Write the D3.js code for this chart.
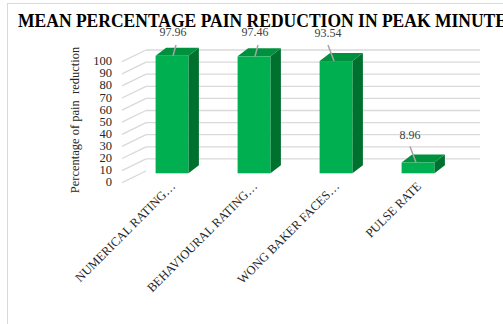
<!DOCTYPE html>
<html>
<head>
<meta charset="utf-8">
<script src="https://cdn.jsdelivr.net/npm/d3@7"></script>
<style>
  html, body { margin: 0; padding: 0; background: #fff; }
  svg { display: block; }
  text { font-family: "Liberation Serif", "Times New Roman", serif; }
</style>
</head>
<body>
<script>
const categories = ["NUMERICAL RATING…", "BEHAVIOURAL RATING…", "WONG BAKER FACES…", "PULSE RATE"];
const values = [97.96, 97.46, 93.54, 8.96];
const yTicks = [0, 10, 20, 30, 40, 50, 60, 70, 80, 90, 100];
const title = "MEAN PERCENTAGE PAIN REDUCTION IN PEAK MINUTE";
const yTitle = "Percentage of pain  reduction";

const W = 503, H = 324;
const svg = d3.select("body").append("svg").attr("width", W).attr("height", H);

// frame
svg.append("rect").attr("x", 7.5).attr("y", 3.5).attr("width", 620).attr("height", 420)
  .attr("fill", "#fff").attr("stroke", "#d9d9d9").attr("stroke-width", 1);

// title
svg.append("text").attr("x", 18).attr("y", 26.5)
  .attr("font-size", 18).attr("font-weight", "bold").attr("fill", "#000")
  .attr("textLength", 489).attr("lengthAdjust", "spacingAndGlyphs")
  .text(title);

// scales
const x = d3.scaleBand().domain(categories).range([131, 459]).paddingInner(0.6).paddingOuter(0.3);
const yFront = d3.scaleLinear().domain([0, 100]).range([173.3, 53.3]);
const yBack = d3.scaleLinear().domain([0, 100]).range([171, 50]);
const yLab = d3.scaleLinear().domain([0, 100]).range([181.7, 60.7]);
const depthX = 10.5, depthY = -8;
const wallX0 = 122, wallX1 = 146, wallRight = 480;

// gridlines: side-wall diagonals + back wall horizontals
const grid = svg.append("g").attr("stroke", "#d9d9d9").attr("stroke-width", 1.3).attr("fill", "none");
yTicks.forEach(v => {
  grid.append("line").attr("x1", wallX0).attr("y1", yLab(v) + 1).attr("x2", wallX1).attr("y2", yBack(v));
  if (v > 0) grid.append("line").attr("x1", wallX1).attr("y1", yBack(v)).attr("x2", wallRight).attr("y2", yBack(v));
});

// y axis labels
const yAxis = d3.axisLeft(yLab).tickValues(yTicks).tickSize(0).tickPadding(0).tickFormat(d3.format("d"));
const ga = svg.append("g").attr("transform", "translate(112,0)").call(yAxis);
ga.select(".domain").remove();
ga.selectAll("text").attr("font-size", 12.5).attr("fill", "#262626")
  .attr("font-family", "\"Liberation Serif\", \"Times New Roman\", serif");

// y title
svg.append("text").attr("transform", "translate(79,120) rotate(-90)")
  .attr("text-anchor", "middle").attr("font-size", 12.5).attr("fill", "#262626")
  .style("white-space", "pre").text(yTitle);

// bars
const bars = svg.append("g");
categories.forEach((c, i) => {
  const v = values[i];
  const l = x(c), r = x(c) + x.bandwidth();
  const t = yFront(v), b = yFront(0);
  const g = bars.append("g");
  g.append("polygon").attr("fill", "#00702f")
    .attr("points", [[r, t], [r + depthX, t + depthY], [r + depthX, b + depthY], [r, b]].map(p => p.join(",")).join(" "));
  g.append("polygon").attr("fill", "#00913f")
    .attr("points", [[l, t], [l + depthX, t + depthY], [r + depthX, t + depthY], [r, t]].map(p => p.join(",")).join(" "));
  g.append("rect").attr("x", l).attr("y", t).attr("width", r - l).attr("height", b - t).attr("fill", "#00b050");
});

// data labels with leader lines
categories.forEach((c, i) => {
  const v = values[i];
  const cx = x(c) + x.bandwidth() / 2;
  const top = yFront(v);
  const natural = top - 24;
  const pinned = natural < 36;
  const base = pinned ? 36 : natural;
  const lx = pinned ? cx + 1 : cx - 8;
  const x1 = pinned ? cx + 4 : cx - 8, y1 = base + (pinned ? 9 : 8);
  const x2 = pinned ? cx + 1 : cx - 2;
  svg.append("line").attr("x1", x1).attr("y1", y1).attr("x2", x2).attr("y2", top)
    .attr("stroke", "#a6a6a6").attr("stroke-width", 1.5);
  svg.append("text").attr("x", lx).attr("y", base).attr("text-anchor", "middle")
    .attr("font-size", 12).attr("fill", "#404040").text(v.toFixed(2));
});

// category labels
categories.forEach(c => {
  const cx = x(c) + x.bandwidth() / 2;
  svg.append("text").attr("transform", `translate(${cx + 4},187) rotate(-45)`)
    .attr("text-anchor", "end").attr("font-size", 12.5).attr("fill", "#262626").text(c);
});
</script>
</body>
</html>
